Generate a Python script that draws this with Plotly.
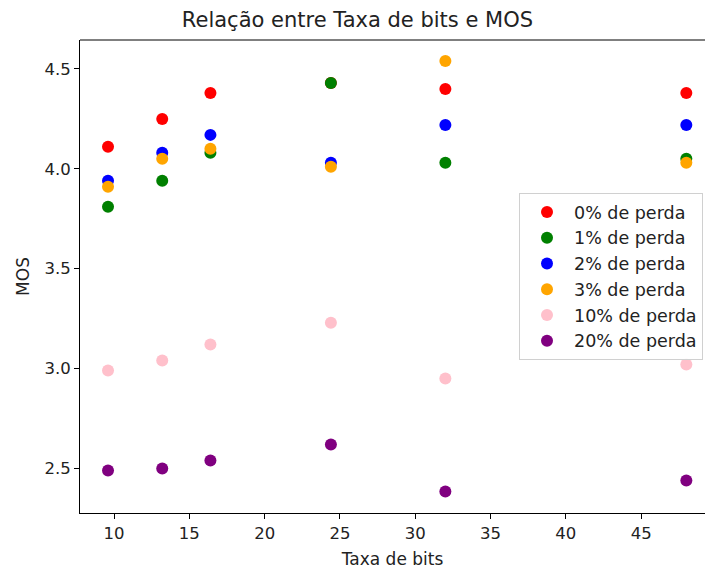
import plotly.graph_objects as go

taxa_bits = [9.6, 13.2, 16.4, 24.4, 32.0, 48.0]
series_names = ["0% de perda", "1% de perda", "2% de perda", "3% de perda", "10% de perda", "20% de perda"]
mos_0 = [4.11, 4.25, 4.38, 4.43, 4.40, 4.38]
mos_1 = [3.81, 3.94, 4.08, 4.43, 4.03, 4.05]
mos_2 = [3.94, 4.08, 4.17, 4.03, 4.22, 4.22]
mos_3 = [3.91, 4.05, 4.10, 4.01, 4.54, 4.03]
mos_10 = [2.99, 3.04, 3.12, 3.23, 2.95, 3.02]
mos_20 = [2.49, 2.50, 2.54, 2.62, 2.385, 2.44]
colors = ["red", "green", "blue", "orange", "pink", "purple"]
all_series = [mos_0, mos_1, mos_2, mos_3, mos_10, mos_20]

fig = go.Figure()
for name, vals, c in zip(series_names, all_series, colors):
    fig.add_trace(go.Scatter(x=taxa_bits, y=vals, mode="markers", name=name,
                             marker=dict(color=c, size=12, line=dict(width=0))))

font = "DejaVu Sans"
fig.update_layout(
    width=705, height=570,
    margin=dict(l=80, r=0, t=40, b=57),
    paper_bgcolor="white", plot_bgcolor="white",
    font=dict(family=font, size=16.5, color="#222"),
    title=dict(text="Relação entre Taxa de bits e MOS", x=0.507, xanchor="center",
               y=1 - 20 / 570, yanchor="middle", font=dict(size=21, color="#222")),
    showlegend=True,
    legend=dict(x=0.7024, y=0.6765, xanchor="left", yanchor="top",
                bgcolor="rgba(255,255,255,0.8)", bordercolor="#d0d0d0", borderwidth=1,
                font=dict(size=17.5, color="#222"), itemsizing="trace", itemwidth=44,
                tracegroupgap=0),
)
fig.update_xaxes(range=[7.74, 49.24], tickvals=[10, 15, 20, 25, 30, 35, 40, 45],
                 showgrid=False, zeroline=False, showline=True, linecolor="black", linewidth=1,
                 ticks="outside", ticklen=5, tickcolor="black",
                 title=dict(text="Taxa de bits", standoff=11, font=dict(size=17)),
                 tickfont=dict(size=16.5))
fig.update_yaxes(range=[2.277, 4.645], tickvals=[2.5, 3.0, 3.5, 4.0, 4.5],
                 ticktext=["2.5", "3.0", "3.5", "4.0", "4.5"],
                 showgrid=False, zeroline=False, showline=True, linecolor="black", linewidth=1,
                 ticks="outside", ticklen=5, tickcolor="black",
                 title=dict(text="MOS", standoff=10, font=dict(size=17)),
                 tickfont=dict(size=16.5))
fig.add_shape(type="line", xref="paper", yref="paper", x0=0, x1=1, y0=1, y1=1,
              line=dict(color="black", width=1))
fig.write_html("out.html", config={"displayModeBar": False},
               post_script="document.body.style.margin='0';")
